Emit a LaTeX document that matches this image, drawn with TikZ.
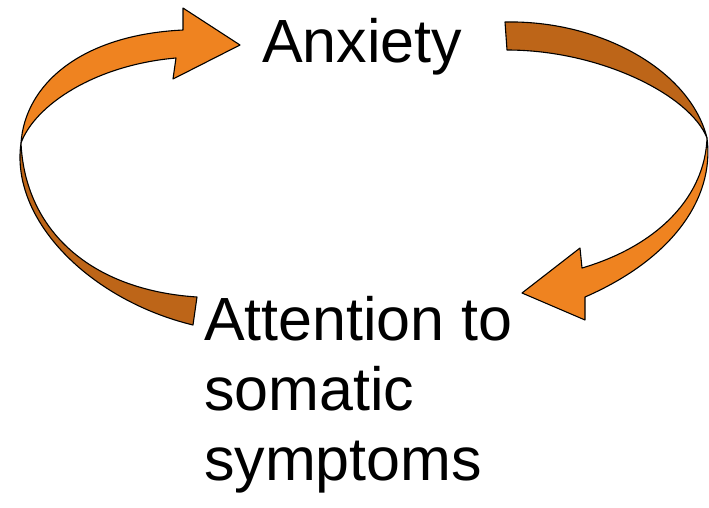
\documentclass[tikz,border=0pt]{standalone}
\usepackage{fontspec}
\setmainfont{Liberation Sans}
\definecolor{lightor}{RGB}{239,131,32}
\definecolor{darkor}{RGB}{189,101,24}
\tikzset{
  ribbonlight/.style={fill=lightor,draw=black,line width=1.1pt,line join=round},
  ribbondark/.style={fill=darkor,draw=black,line width=1.1pt,line join=round},
  label/.style={inner sep=0pt,outer sep=0pt,font=\fontsize{61}{70}\selectfont,align=left}
}
\begin{document}
\begin{tikzpicture}[x=1pt,y=-1pt]
\useasboundingbox (0,0) rectangle (709,507);
% left arrow: lower dark part
\draw[ribbondark] (21,143) .. controls (10,220) and (90,300) .. (193,325)
  -- (197,297) .. controls (90,290) and (25,230) .. (21,143) -- cycle;
% left arrow: upper light part with head
\draw[ribbonlight] (21,143) .. controls (25,85) and (80,35) .. (183,30)
  -- (183,8) -- (240,45) -- (173,79) -- (176,58)
  .. controls (95,65) and (35,105) .. (21,143) -- cycle;
% right arrow: upper dark part
\draw[ribbondark] (505,22) .. controls (600,20) and (690,70) .. (707,138)
  .. controls (690,95) and (600,50) .. (507,50) -- cycle;
% right arrow: lower light part with head
\draw[ribbonlight] (707,138) .. controls (715,200) and (670,260) .. (585,297)
  -- (585,320) -- (522,293) -- (580,248) -- (582,268)
  .. controls (660,245) and (705,195) .. (707,138) -- cycle;
\node[label,anchor=base west] (anx) at (262,62) {Anxiety};
\node[label,anchor=base west] (att) at (204,480) {Attention to\\somatic\\symptoms};
\end{tikzpicture}
\end{document}
